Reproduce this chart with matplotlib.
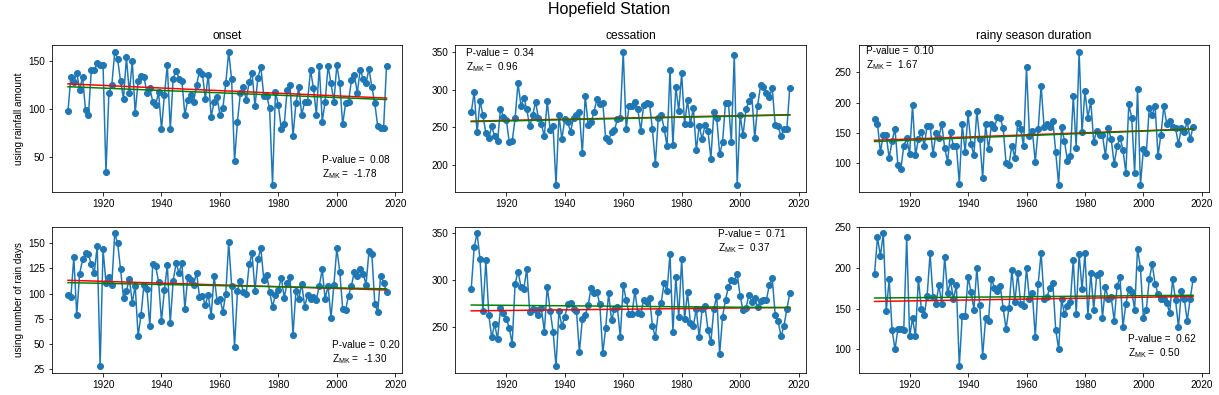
"""Hopefield Station - rainy season onset / cessation / duration trends"""
import numpy as np
import matplotlib
matplotlib.use("Agg")
import matplotlib.pyplot as plt
from matplotlib.ticker import MultipleLocator

plt.rcParams["font.family"] = ["Liberation Sans", "DejaVu Sans"]
plt.rcParams["mathtext.default"] = "regular"

years = list(range(1908, 2018))

# using rainfall amount
onset_rain = [
    98, 134, 128, 138, 120, 134, 99, 94, 141, 141,
    148, 146, 146, 34, 117, 125, 160, 152, 129, 111,
    154, 117, 150, 96, 129, 135, 134, 117, 122, 108,
    104, 118, 79, 115, 146, 79, 132, 140, 132, 129,
    94, 110, 115, 108, 125, 140, 137, 111, 136, 92,
    108, 113, 94, 101, 127, 160, 131, 46, 87, 117,
    123, 110, 128, 138, 103, 133, 144, 114, 114, 101,
    21, 118, 104, 79, 84, 120, 125, 72, 106, 123,
    94, 108, 108, 141, 122, 94, 145, 87, 108, 145,
    127, 108, 146, 127, 84, 106, 108, 130, 136, 117,
    141, 132, 127, 142, 123, 106, 82, 80, 80, 145,
]
cessation_rain = [
    270, 297, 243, 285, 266, 242, 235, 251, 238, 231,
    275, 264, 260, 230, 231, 262, 309, 279, 289, 274,
    251, 266, 284, 262, 254, 238, 285, 246, 251, 173,
    266, 234, 261, 257, 244, 263, 267, 270, 215, 292,
    253, 257, 270, 288, 281, 283, 235, 232, 243, 246,
    261, 263, 351, 247, 279, 278, 284, 274, 245, 280,
    282, 281, 247, 201, 263, 267, 248, 225, 327, 226,
    304, 272, 322, 254, 286, 254, 276, 219, 252, 234,
    253, 245, 208, 270, 263, 214, 230, 283, 283, 230,
    347, 173, 267, 239, 274, 285, 293, 235, 279, 306,
    304, 296, 291, 302, 253, 251, 238, 248, 248, 303,
]
duration_rain = [
    173, 165, 118, 147, 146, 108, 136, 157, 96, 90,
    128, 141, 115, 196, 113, 139, 152, 128, 162, 162,
    115, 149, 142, 165, 125, 102, 151, 128, 129, 66,
    164, 118, 182, 131, 113, 186, 139, 75, 164, 123,
    164, 158, 176, 174, 158, 100, 97, 129, 109, 167,
    157, 128, 258, 145, 153, 102, 156, 228, 160, 164,
    160, 170, 118, 64, 160, 136, 104, 112, 211, 125,
    284, 151, 219, 175, 202, 135, 153, 147, 146, 112,
    158, 139, 98, 128, 142, 122, 84, 197, 175, 84,
    222, 64, 123, 117, 191, 179, 195, 112, 147, 194,
    164, 169, 160, 158, 131, 158, 151, 169, 139, 160,
]

# using number of rain days
onset_days = [
    99, 97, 136, 79, 120, 134, 140, 139, 129, 121,
    147, 28, 144, 111, 117, 109, 160, 150, 124, 96,
    103, 115, 91, 108, 58, 79, 109, 105, 68, 129,
    127, 112, 73, 104, 128, 71, 113, 130, 121, 130,
    85, 117, 114, 109, 121, 97, 98, 89, 99, 78,
    118, 93, 95, 82, 100, 151, 108, 47, 103, 113,
    102, 100, 129, 140, 103, 134, 145, 114, 119, 102,
    87, 99, 104, 116, 96, 111, 117, 59, 103, 95,
    110, 87, 99, 95, 97, 94, 108, 124, 95, 108,
    76, 109, 145, 122, 85, 84, 98, 108, 122, 118,
    124, 120, 109, 142, 139, 90, 82, 118, 111, 102,
]
cessation_days = [
    291, 335, 350, 322, 267, 321, 263, 239, 253, 237,
    270, 265, 259, 249, 232, 296, 309, 293, 291, 312,
    266, 269, 268, 263, 270, 245, 293, 267, 245, 208,
    267, 251, 261, 274, 276, 269, 267, 223, 258, 263,
    273, 292, 286, 287, 274, 222, 249, 286, 257, 269,
    271, 239, 295, 279, 264, 264, 288, 265, 264, 279,
    277, 281, 251, 239, 266, 276, 297, 288, 328, 245,
    303, 261, 322, 258, 287, 254, 251, 269, 239, 269,
    272, 247, 234, 269, 283, 221, 261, 279, 293, 300,
    299, 307, 283, 268, 270, 284, 277, 281, 271, 278,
    279, 279, 295, 302, 263, 256, 240, 251, 269, 286,
]
duration_days = [
    193, 238, 215, 243, 147, 186, 124, 100, 125, 125,
    124, 238, 116, 138, 116, 187, 150, 142, 166, 218,
    165, 156, 179, 156, 214, 169, 184, 162, 179, 79,
    141, 141, 189, 171, 149, 200, 154, 92, 138, 135,
    187, 176, 172, 178, 151, 125, 151, 198, 158, 194,
    156, 153, 200, 162, 169, 115, 181, 219, 162, 164,
    176, 182, 124, 100, 162, 143, 153, 158, 210, 144,
    217, 174, 218, 141, 194, 149, 191, 194, 139, 177,
    162, 164, 135, 178, 189, 128, 156, 174, 171, 149,
    224, 200, 138, 149, 186, 205, 181, 168, 162, 162,
    157, 145, 186, 161, 127, 172, 162, 135, 162, 186,
]

col_titles = ["onset", "cessation", "rainy season duration"]
row_labels = ["using rainfall amount", "using number of rain days"]
p_values = [["0.08", "0.34", "0.10"], ["0.20", "0.71", "0.62"]]
z_mk = [["-1.78", "0.96", "1.67"], ["-1.30", "0.37", "0.50"]]

series = [[onset_rain, cessation_rain, duration_rain],
          [onset_days, cessation_days, duration_days]]
y_steps = [[50, 50, 50], [25, 50, 50]]
# (x, y, va) of the stats box in axes coords
text_pos = [[(0.77, 0.07, "bottom"), (0.03, 0.98, "top"), (0.02, 0.99, "top")],
            [(0.80, 0.05, "bottom"), (0.75, 0.985, "top"), (0.77, 0.09, "bottom")]]


def sen_slope(x, y):
    x = np.asarray(x, float)
    y = np.asarray(y, float)
    i, j = np.triu_indices(len(x), 1)
    slope = np.median((y[j] - y[i]) / (x[j] - x[i]))
    return slope, np.median(y) - slope * np.median(x)


fig, axes = plt.subplots(2, 3, figsize=(1219 / 72, 395 / 72), dpi=72)
fig.subplots_adjust(left=0.0427, right=0.9918, bottom=0.0557, top=0.886,
                    wspace=0.151, hspace=0.239)

x = np.array(years)
for r in range(2):
    for c in range(3):
        ax = axes[r, c]
        y = np.array(series[r][c], float)
        ax.plot(x, y, marker="o", color="C0")
        # Sen's slope in red, least squares in green
        s, i0 = sen_slope(x, y)
        ax.plot(x, s * x + i0, color="r")
        a, b = np.polyfit(x, y, 1)
        ax.plot(x, a * x + b, color="g")
        ax.xaxis.set_major_locator(MultipleLocator(20))
        ax.yaxis.set_major_locator(MultipleLocator(y_steps[r][c]))
        tx, ty, va = text_pos[r][c]
        ax.text(tx, ty, f"P-value =  {p_values[r][c]}\nZ$_{{MK}}$ =  {z_mk[r][c]}",
                transform=ax.transAxes, fontsize=10, va=va, ha="left")
        if r == 0:
            ax.set_title(col_titles[c], fontsize=12)
        if c == 0:
            ax.set_ylabel(row_labels[r])

fig.suptitle("Hopefield Station", fontsize=16, y=0.995)
fig.savefig("out.png", dpi=72)
